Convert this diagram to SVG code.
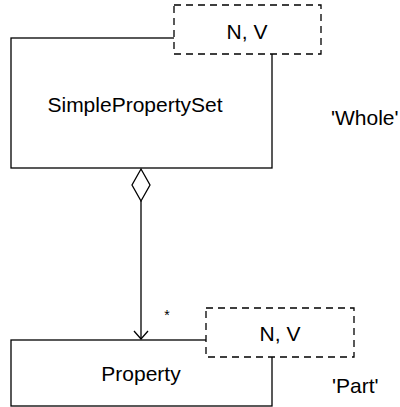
<svg xmlns="http://www.w3.org/2000/svg" width="400" height="407" viewBox="0 0 400 407">
<style>
text{font-family:"Liberation Sans",Arial,sans-serif;font-size:21px;fill:#000}
.box{fill:#fff;stroke:#000;stroke-width:1.3}
.dash{fill:#fff;stroke:#000;stroke-width:1.3;stroke-dasharray:7,5}
.conn{fill:none;stroke:#000;stroke-width:1.3}
</style>
<rect width="400" height="407" fill="#fff"/>
<g id="whole">
<rect class="box" x="11" y="38" width="261" height="130"/>
<text x="135" y="112" text-anchor="middle">SimplePropertySet</text>
</g>
<g id="whole-params">
<rect class="dash" x="174" y="5" width="147" height="49"/>
<text x="247" y="39" text-anchor="middle">N, V</text>
</g>
<g id="part">
<rect class="box" x="11" y="340" width="261" height="66"/>
<text x="141" y="381" text-anchor="middle">Property</text>
</g>
<g id="part-params">
<rect class="dash" x="206" y="308" width="148" height="49"/>
<text x="280" y="341" text-anchor="middle">N, V</text>
</g>
<g id="connectors">
<path class="conn" d="M141 169 L150 185 L141 201 L132 185 Z"/>
<path class="conn" d="M141 201 L141 339"/>
<path class="conn" d="M134 331 L141 339 L148 331"/>
<text x="167" y="320" text-anchor="middle" style="font-size:14px">*</text>
</g>
<text x="331" y="125">'Whole'</text>
<text x="332" y="393">'Part'</text>
</svg>
